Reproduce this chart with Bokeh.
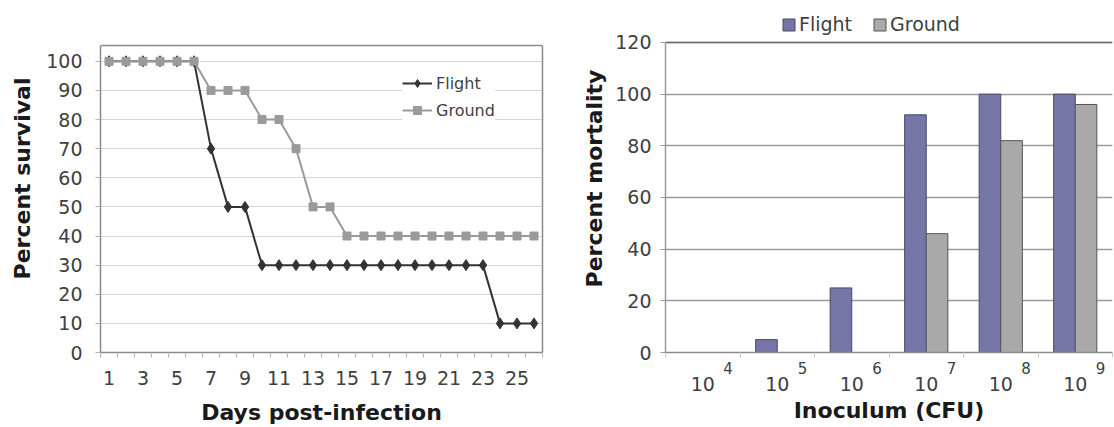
from bokeh.plotting import figure
from bokeh.layouts import row
from bokeh.models import (Range1d, FixedTicker, Legend, LegendItem, ColumnDataSource,
                          LinearAxis, Span)
from bokeh.transform import dodge
from bokeh.embed import file_html
from bokeh.resources import INLINE

# ---------------- data: left panel (survival) ----------------
days = [1, 2, 3, 4, 5, 6, 7, 8, 9, 10, 11, 12, 13, 14, 15, 16, 17, 18, 19, 20,
        21, 22, 23, 24, 25, 26]
flight_survival = [100, 100, 100, 100, 100, 100, 70, 50, 50, 30, 30, 30, 30, 30,
                   30, 30, 30, 30, 30, 30, 30, 30, 30, 10, 10, 10]
ground_survival = [100, 100, 100, 100, 100, 100, 90, 90, 90, 80, 80, 70, 50, 50,
                   40, 40, 40, 40, 40, 40, 40, 40, 40, 40, 40, 40]
day_tick_labels = [1, 3, 5, 7, 9, 11, 13, 15, 17, 19, 21, 23, 25]
survival_ticks = [0, 10, 20, 30, 40, 50, 60, 70, 80, 90, 100]

# ---------------- data: right panel (mortality) ----------------
inoculum_categories = ["10^4", "10^5", "10^6", "10^7", "10^8", "10^9"]
inoculum_base = "10"
inoculum_exponents = ["4", "5", "6", "7", "8", "9"]
flight_mortality = [0, 5, 25, 92, 100, 100]
ground_mortality = [0, 0, 0, 46, 82, 96]
mortality_ticks = [0, 20, 40, 60, 80, 100, 120]

FONT = "DejaVu Sans"
TICK_COLOR = "#404040"
TITLE_COLOR = "#1a1a1a"
FLIGHT_LINE = "#333333"
GROUND_LINE = "#9a9a9a"
FLIGHT_BAR = "#7575a8"
GROUND_BAR = "#a9a9a9"
BOX_LEFT = "#8a8a8a"


def style_title(axis, text, size="22px", standoff=10):
    axis.axis_label = text
    axis.axis_label_text_font = FONT
    axis.axis_label_text_font_style = "bold"
    axis.axis_label_text_font_size = size
    axis.axis_label_text_color = TITLE_COLOR
    axis.axis_label_standoff = standoff


def style_labels(axis, size="19px", standoff=10):
    axis.major_label_text_font = FONT
    axis.major_label_text_font_size = size
    axis.major_label_text_color = TICK_COLOR
    axis.major_label_standoff = standoff


# Both frames (aligned by the row) reach up near the top of the page so that the
# right-hand legend can sit above its plot box; each plot box is drawn with
# bounded axes and a top rule.

# ======================= LEFT FIGURE =======================
box_top_left = 105.4
p1 = figure(width=568, height=427,
            x_range=Range1d(0.5, 26.5), y_range=Range1d(0, 119.5),
            output_backend="svg", toolbar_location=None,
            min_border_left=100, min_border_right=26,
            min_border_top=4, min_border_bottom=74)
p1.outline_line_color = None
p1.xgrid.visible = False
p1.ygrid.grid_line_color = "#d6d6d6"
p1.ygrid.grid_line_width = 1
p1.add_layout(Span(location=box_top_left, dimension="width",
                   line_color=BOX_LEFT, line_width=1.5))

fl = p1.line(days, flight_survival, line_color=FLIGHT_LINE, line_width=2)
fs = p1.scatter(days, flight_survival, marker="diamond", size=11,
                fill_color=FLIGHT_LINE, line_color=FLIGHT_LINE)
gl = p1.line(days, ground_survival, line_color=GROUND_LINE, line_width=2)
gs = p1.scatter(days, ground_survival, marker="square", size=8,
                fill_color=GROUND_LINE, line_color=GROUND_LINE)

day_boundaries = [d - 0.5 for d in days] + [days[-1] + 0.5]

xa = p1.xaxis[0]
xa.ticker = FixedTicker(ticks=day_tick_labels, minor_ticks=day_boundaries)
xa.major_tick_out = 0
xa.major_tick_in = 0
xa.minor_tick_out = 5
xa.minor_tick_in = 0
xa.minor_tick_line_color = "#b5b5b5"
xa.axis_line_color = BOX_LEFT
xa.axis_line_width = 1.5
style_labels(xa, standoff=13)
style_title(xa, "Days post-infection", standoff=12)

ya = p1.yaxis[0]
ya.ticker = FixedTicker(ticks=survival_ticks)
ya.bounds = (0, box_top_left)
ya.minor_tick_out = 0
ya.minor_tick_in = 0
ya.major_tick_out = 5
ya.major_tick_in = 0
ya.major_tick_line_color = "#b5b5b5"
ya.axis_line_color = BOX_LEFT
ya.axis_line_width = 1.5
style_labels(ya, standoff=13)
style_title(ya, "Percent survival", standoff=8)

# right edge of the box
edge = LinearAxis(ticker=FixedTicker(ticks=[]), bounds=(0, box_top_left))
edge.major_tick_out = 0
edge.major_tick_in = 0
edge.minor_tick_out = 0
edge.minor_tick_in = 0
edge.major_label_text_font_size = "0px"
edge.major_label_standoff = 0
edge.axis_line_color = BOX_LEFT
edge.axis_line_width = 1.5
p1.add_layout(edge, "right")

legend1 = Legend(items=[LegendItem(label="Flight", renderers=[fl, fs]),
                        LegendItem(label="Ground", renderers=[gl, gs])],
                 location=(302, 232), orientation="vertical",
                 glyph_width=30, glyph_height=20, spacing=7, padding=10, margin=0,
                 label_standoff=4, border_line_color=None,
                 background_fill_color="white", background_fill_alpha=1.0,
                 label_text_font=FONT, label_text_font_size="16px",
                 label_text_color=TICK_COLOR)
p1.add_layout(legend1)

# ======================= RIGHT FIGURE =======================
n_cat = len(inoculum_categories)
cat_centers = [i + 0.5 for i in range(n_cat)]      # one slot per category
exp_shift = 0.34  # exponent drawn to the upper right of "10"
y_axis_max = mortality_ticks[-1]

source = ColumnDataSource(dict(inoculum=inoculum_categories,
                               pos=cat_centers,
                               flight=flight_mortality,
                               ground=ground_mortality))

p2 = figure(width=546, height=427,
            x_range=Range1d(0, n_cat), y_range=Range1d(0, 134.7),
            x_axis_location=None,
            output_backend="svg", toolbar_location=None,
            min_border_left=97, min_border_right=2,
            min_border_top=4, min_border_bottom=74)
p2.extra_x_ranges = {"exp": Range1d(-exp_shift, n_cat - exp_shift)}
p2.outline_line_color = None
p2.xgrid.visible = False
p2.ygrid.grid_line_color = "#9a9a9a"
p2.ygrid.grid_line_width = 1.5
p2.add_layout(Span(location=y_axis_max, dimension="width",
                   line_color="#6e6e6e", line_width=1.5))

fb = p2.vbar(x=dodge("pos", -0.145), top="flight", width=0.29,
             source=source, fill_color=FLIGHT_BAR, line_color="#4a4a66", line_width=1)
gb = p2.vbar(x=dodge("pos", 0.145), top="ground", width=0.29,
             source=source, fill_color=GROUND_BAR, line_color="#555555", line_width=1)

# axis nearest the frame: exponents (superscripts) + category boundary ticks
exp_axis = LinearAxis(x_range_name="exp",
                      ticker=FixedTicker(ticks=cat_centers,
                                         minor_ticks=[k - exp_shift for k in range(n_cat + 1)]),
                      major_label_overrides={c: e for c, e in zip(cat_centers, inoculum_exponents)})
exp_axis.major_tick_out = 0
exp_axis.major_tick_in = 0
exp_axis.minor_tick_out = 5
exp_axis.minor_tick_in = 0
exp_axis.minor_tick_line_color = "#c8c8c8"
exp_axis.axis_line_color = BOX_LEFT
exp_axis.axis_line_width = 1.5
style_labels(exp_axis, size="15px", standoff=4)
p2.add_layout(exp_axis, "below")

# second axis: the "10" bases and the axis title
base_axis = LinearAxis(ticker=FixedTicker(ticks=cat_centers, minor_ticks=[]),
                       major_label_overrides={c: inoculum_base for c in cat_centers})
base_axis.major_tick_out = 0
base_axis.major_tick_in = 0
base_axis.minor_tick_out = 0
base_axis.minor_tick_in = 0
base_axis.axis_line_color = None
style_labels(base_axis, standoff=0)
style_title(base_axis, "Inoculum (CFU)", standoff=4)
p2.add_layout(base_axis, "below")

yb = p2.yaxis[0]
yb.ticker = FixedTicker(ticks=mortality_ticks)
yb.bounds = (0, y_axis_max)
yb.minor_tick_out = 0
yb.minor_tick_in = 0
yb.major_tick_out = 5
yb.major_tick_in = 0
yb.major_tick_line_color = "#9a9a9a"
yb.axis_line_color = "#9a9a9a"
yb.axis_line_width = 1.5
style_labels(yb, standoff=9)
style_title(yb, "Percent mortality", standoff=5)

legend2 = Legend(items=[LegendItem(label="Flight", renderers=[fb]),
                        LegendItem(label="Ground", renderers=[gb])],
                 location=(116, 317), orientation="horizontal",
                 glyph_width=15, glyph_height=15, spacing=20, padding=3, margin=0,
                 label_standoff=3, border_line_color=None, background_fill_alpha=0,
                 label_text_font=FONT, label_text_font_size="19px",
                 label_text_color=TICK_COLOR)
p2.add_layout(legend2)

layout = row(p1, p2, spacing=0)
open("out.html", "w").write(file_html(layout, INLINE))
